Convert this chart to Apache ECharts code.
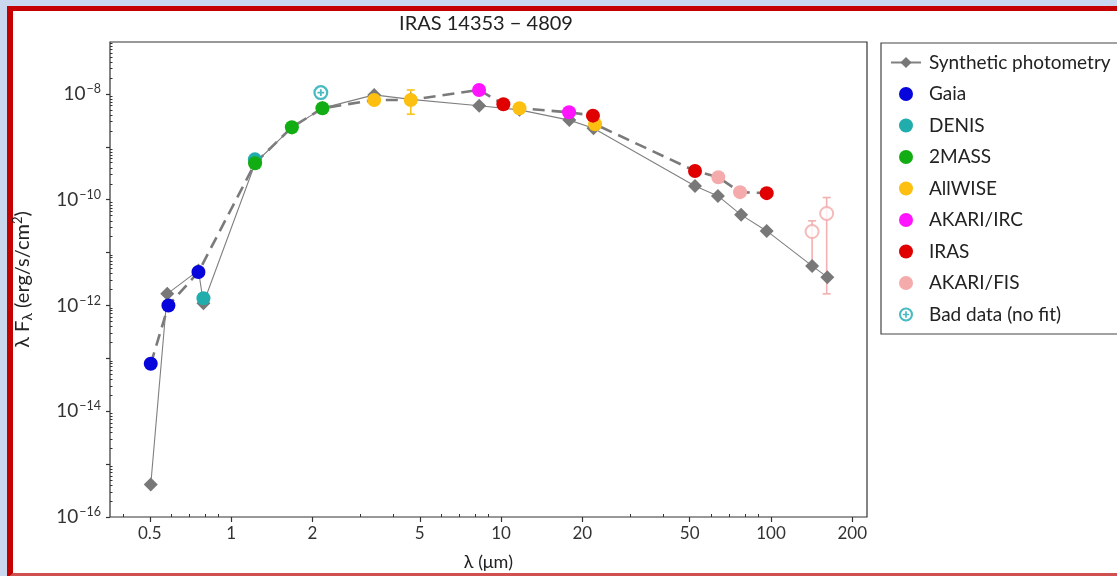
<!DOCTYPE html>
<html>
<head>
<meta charset="utf-8">
<script src="https://cdn.jsdelivr.net/npm/echarts@6/dist/echarts.min.js"></script>
<style>
  html, body { margin: 0; padding: 0; background: #c9d8ee; width: 1117px; height: 576px; overflow: hidden; }
  #frame { position: absolute; left: 7px; top: 6px; width: 1200px; height: 572px; box-sizing: border-box;
           border-left: 6px solid #c40000; border-top: 5px solid #c40000; border-bottom: 5px solid #d05050; background: #fff; }
  #chart { position: absolute; left: 0; top: 0; width: 1117px; height: 576px; }
</style>
</head>
<body>
<div id="frame"></div>
<div id="chart"></div>
<script>
// ---- data (wavelength in micron, lambda F_lambda in erg/s/cm^2) ----
const synthX = [0.504, 0.58, 0.757, 0.79, 1.23, 1.68, 2.18, 3.39, 4.63, 8.3, 11.7, 17.9, 22.0, 52.3, 63.6, 77.5, 96.4, 142, 161.7];
const synthY = [4.1e-16, 1.66e-12, 4.6e-12, 1.1e-12, 5.0e-10, 2.3e-9, 5.4e-9, 9.6e-9, 7.9e-9, 6.0e-9, 5.0e-9, 3.2e-9, 2.24e-9, 1.82e-10, 1.18e-10, 5.17e-11, 2.57e-11, 5.6e-12, 3.43e-12];

const modelX = [0.504, 0.586, 0.757, 1.227, 1.679, 2.18, 3.39, 4.63, 8.29, 10.2, 11.7, 17.86, 21.9, 22.3, 52.3, 63.8, 76.8, 96.4];
const modelY = [7.9e-14, 1.0e-12, 4.3e-12, 4.9e-10, 2.34e-9, 5.37e-9, 7.7e-9, 7.7e-9, 1.19e-8, 6.4e-9, 5.37e-9, 4.5e-9, 3.89e-9, 2.67e-9, 3.5e-10, 2.66e-10, 1.39e-10, 1.33e-10];

const gaiaX = [0.504, 0.586, 0.757];
const gaiaY = [7.9e-14, 1.0e-12, 4.3e-12];
const denisX = [0.79, 1.225];
const denisY = [1.37e-12, 5.8e-10];
const tmassX = [1.227, 1.679, 2.18];
const tmassY = [4.9e-10, 2.34e-9, 5.37e-9];
const wiseX = [3.39, 4.63, 11.7, 22.3];
const wiseY = [7.7e-9, 7.7e-9, 5.37e-9, 2.67e-9];
const ircX = [8.29, 17.86];
const ircY = [1.19e-8, 4.5e-9];
const irasX = [10.2, 21.9, 52.3, 96.4];
const irasY = [6.4e-9, 3.89e-9, 3.5e-10, 1.33e-10];
const fisX = [63.8, 76.8];
const fisY = [2.66e-10, 1.39e-10];
const fisOpenX = [142, 160.8];
const fisOpenY = [2.5e-11, 5.5e-11];
const fisOpenLo = [5.6e-12, 1.66e-12];
const fisOpenHi = [3.98e-11, 1.1e-10];
const wiseErrX = [4.63];
const wiseErrLo = [4.13e-9];
const wiseErrHi = [1.19e-8];
const badX = [2.15];
const badY = [1.06e-8];

const xLabelValues = [0.5, 1, 2, 5, 10, 20, 50, 100, 200];
const xMinorValues = [0.4, 0.6, 0.7, 0.8, 0.9, 3, 4, 6, 7, 8, 9, 30, 40, 60, 70, 80, 90];
const yLabelValues = [1e-16, 1e-14, 1e-12, 1e-10, 1e-8];
const yMajorTicks = [1e-16, 1e-15, 1e-14, 1e-13, 1e-12, 1e-11, 1e-10, 1e-9, 1e-8];
const yMinorTicks = [];
for (let e = -16; e <= -8; e++) for (let m = 2; m <= 9; m++) { const v = m * Math.pow(10, e); if (v < 9.6e-8) yMinorTicks.push(v); }

const pairs = (xs, ys) => xs.map((x, i) => [x, ys[i]]);

const FONT = 'Lato';
const BAD_SYMBOL = 'path://M0,-10A10,10 0 1,1 0,10A10,10 0 1,1 0,-10ZM0,-7A7,7 0 1,0 0,7A7,7 0 1,0 0,-7ZM-4.5,-1.2L4.5,-1.2L4.5,1.2L-4.5,1.2ZM-1.2,-4.5L1.2,-4.5L1.2,4.5L-1.2,4.5Z';
const chart = echarts.init(document.getElementById('chart'), null, { renderer: 'canvas' });

const errItem = (color) => function (params, api) {
  const x = api.value(0), lo = api.value(1), hi = api.value(2);
  const p1 = api.coord([x, lo]), p2 = api.coord([x, hi]);
  const s = { stroke: color, lineWidth: 1.6 };
  return { type: 'group', children: [
    { type: 'line', shape: { x1: p1[0], y1: p1[1], x2: p2[0], y2: p2[1] }, style: s },
    { type: 'line', shape: { x1: p1[0] - 4, y1: p1[1], x2: p1[0] + 4, y2: p1[1] }, style: s },
    { type: 'line', shape: { x1: p2[0] - 4, y1: p2[1], x2: p2[0] + 4, y2: p2[1] }, style: s }
  ]};
};

const scat = (name, xs, ys, color) => ({
  name, type: 'scatter', data: pairs(xs, ys), symbol: 'circle', symbolSize: 14,
  itemStyle: { color: color, opacity: 1 }, z: 5
});

const supFmt = (v) => {
  const e = Math.round(Math.log10(v));
  return '{b|10}{s|−' + (-e) + '}';
};

const option = {
  animation: false,
  backgroundColor: 'transparent',
  textStyle: { fontFamily: FONT },
  title: {
    text: 'IRAS 14353 − 4809', left: 481, top: 9, textAlign: 'center',
    textStyle: { fontFamily: FONT, fontSize: 20, fontWeight: 'normal', color: '#222' }
  },
  grid: { left: 110, top: 42, right: 250, bottom: 59, show: true, borderColor: '#333', borderWidth: 1.2, backgroundColor: 'transparent' },
  legend: {
    orient: 'vertical', left: 881, top: 43,
    padding: [10, 200, 10, 9],
    itemGap: 12.5, itemWidth: 30, itemHeight: 14,
    borderColor: '#444', borderWidth: 1.2, backgroundColor: '#fff',
    textStyle: { fontFamily: FONT, fontSize: 19, color: '#222', padding: [0, 0, 0, 3] },
    data: [
      { name: 'Synthetic photometry' },
      { name: 'Gaia', icon: 'circle' },
      { name: 'DENIS', icon: 'circle' },
      { name: '2MASS', icon: 'circle' },
      { name: 'AllWISE', icon: 'circle' },
      { name: 'AKARI/IRC', icon: 'circle' },
      { name: 'IRAS', icon: 'circle' },
      { name: 'AKARI/FIS', icon: 'circle' },
      { name: 'Bad data (no fit)', icon: BAD_SYMBOL }
    ]
  },
  xAxis: [
    {
      type: 'log', logBase: 10, min: 0.356, max: 226.8, position: 'bottom',
      name: 'λ (μm)', nameLocation: 'middle', nameGap: 36,
      nameTextStyle: { fontFamily: FONT, fontSize: 18, color: '#222' },
      axisLine: { show: false },
      splitLine: { show: false },
      axisTick: { show: true, inside: false, length: 5, customValues: xLabelValues, lineStyle: { color: '#333', width: 1.2 } },
      axisLabel: { show: true, customValues: xLabelValues, margin: 8, fontSize: 17, color: '#333', fontFamily: FONT,
                   formatter: (v) => String(+v.toPrecision(3)) }
    },
    {
      type: 'log', logBase: 10, min: 0.356, max: 226.8, position: 'bottom',
      axisLine: { show: false }, splitLine: { show: false }, axisLabel: { show: false },
      axisTick: { show: true, inside: true, length: 3, customValues: xMinorValues, lineStyle: { color: '#333', width: 1 } }
    }
  ],
  yAxis: [
    {
      type: 'log', logBase: 10, min: 1e-16, max: 9.6e-8, position: 'left',
      name: 'λ F{sub|λ} (erg/s/cm{sup|2})', nameLocation: 'middle', nameGap: 76,
      nameTextStyle: { fontFamily: FONT, fontSize: 20, color: '#222',
        rich: { sub: { fontSize: 14, padding: [9, 0, 0, 0], fontFamily: FONT, color: '#222' },
                sup: { fontSize: 13, padding: [0, 0, 9, 0], fontFamily: FONT, color: '#222' } } },
      axisLine: { show: false }, splitLine: { show: false },
      axisTick: { show: true, inside: false, length: 4, customValues: yMajorTicks, lineStyle: { color: '#333', width: 1.2 } },
      axisLabel: { show: true, customValues: yLabelValues, margin: 9, color: '#333', formatter: supFmt,
        rich: { b: { fontSize: 19, fontFamily: FONT, color: '#333' },
                s: { fontSize: 12.5, fontFamily: FONT, color: '#333', padding: [0, 0, 10, 1] } } }
    },
    {
      type: 'log', logBase: 10, min: 1e-16, max: 9.6e-8, position: 'left',
      axisLine: { show: false }, splitLine: { show: false }, axisLabel: { show: false },
      axisTick: { show: true, inside: true, length: 2.5, customValues: yMinorTicks, lineStyle: { color: '#333', width: 1 } }
    }
  ],
  series: [
    { name: 'model', type: 'line', data: pairs(modelX, modelY), showSymbol: false, symbol: 'none',
      lineStyle: { color: '#7a7a7a', width: 2.6, type: [12, 7] }, z: 1, silent: true },
    { name: 'errWise', type: 'custom', data: wiseErrX.map((x, i) => [x, wiseErrLo[i], wiseErrHi[i]]),
      encode: { x: 0, y: [1, 2] }, renderItem: errItem('#f9c31a'), z: 2 },
    { name: 'errFis', type: 'custom', data: fisOpenX.map((x, i) => [x, fisOpenLo[i], fisOpenHi[i]]),
      encode: { x: 0, y: [1, 2] }, renderItem: errItem('#f2b0b0'), z: 2 },
    { name: 'Synthetic photometry', type: 'line', data: pairs(synthX, synthY),
      symbol: 'diamond', symbolSize: 14, showSymbol: true,
      lineStyle: { color: '#808080', width: 1.1 }, itemStyle: { color: '#787878' }, z: 3 },
    scat('Gaia', gaiaX, gaiaY, '#0505dc'),
    scat('DENIS', denisX, denisY, '#22adad'),
    scat('2MASS', tmassX, tmassY, '#12ad12'),
    scat('AllWISE', wiseX, wiseY, '#fdc010'),
    scat('AKARI/IRC', ircX, ircY, '#ff14ff'),
    scat('IRAS', irasX, irasY, '#e00000'),
    scat('AKARI/FIS', fisX, fisY, '#f5abab'),
    { name: 'AKARI/FIS open', type: 'scatter', data: pairs(fisOpenX, fisOpenY), symbol: 'emptyCircle', symbolSize: 13,
      itemStyle: { color: '#f2aaaa', borderColor: '#f2aaaa', borderWidth: 2.2 }, z: 5 },
    { name: 'Bad data (no fit)', type: 'scatter', data: pairs(badX, badY), symbol: BAD_SYMBOL, symbolSize: 15,
      itemStyle: { color: '#19a9b3' }, z: 5 }
  ]
};
chart.setOption(option);
</script>
</body>
</html>
